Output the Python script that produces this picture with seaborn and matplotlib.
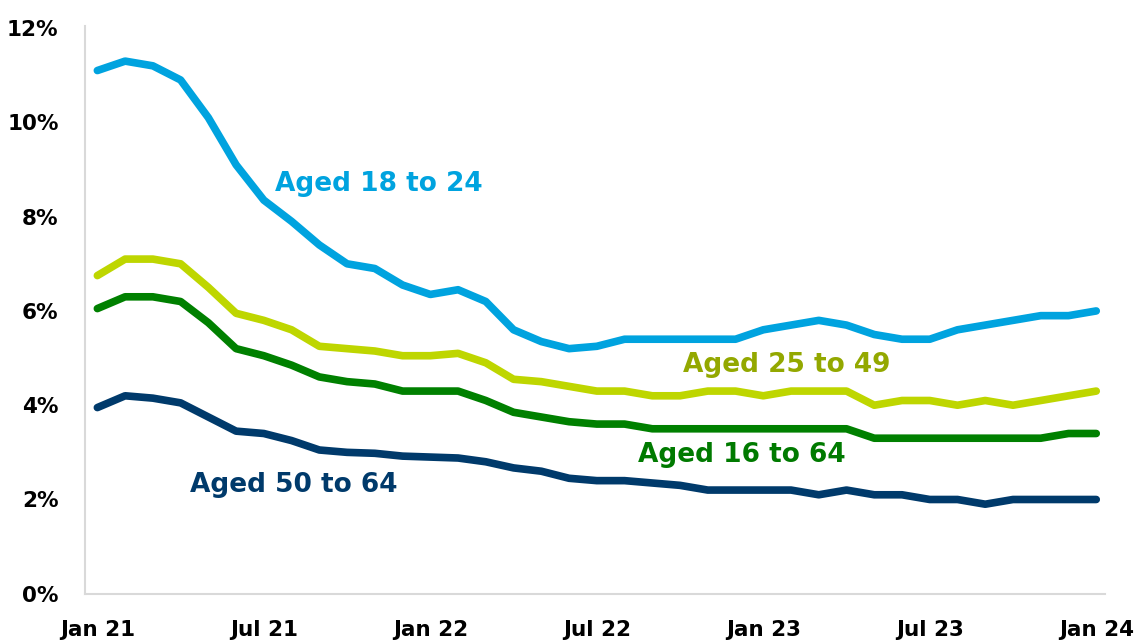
import pandas as pd
import numpy as np
import matplotlib
matplotlib.use("Agg")
import matplotlib.pyplot as plt
import seaborn as sns

# monthly, Jan 21 .. Jan 24
months = pd.date_range("2021-01-01", "2024-01-01", freq="MS")

aged_18_24 = [11.1, 11.3, 11.2, 10.9, 10.1, 9.1, 8.35, 7.9, 7.4, 7.0, 6.9, 6.55,
              6.35, 6.45, 6.2, 5.6, 5.35, 5.2, 5.25, 5.4, 5.4, 5.4, 5.4, 5.4,
              5.6, 5.7, 5.8, 5.7, 5.5, 5.4, 5.4, 5.6, 5.7, 5.8, 5.9, 5.9, 6.0]
aged_25_49 = [6.75, 7.1, 7.1, 7.0, 6.5, 5.95, 5.8, 5.6, 5.25, 5.2, 5.15, 5.05,
              5.05, 5.1, 4.9, 4.55, 4.5, 4.4, 4.3, 4.3, 4.2, 4.2, 4.3, 4.3,
              4.2, 4.3, 4.3, 4.3, 4.0, 4.1, 4.1, 4.0, 4.1, 4.0, 4.1, 4.2, 4.3]
aged_16_64 = [6.05, 6.3, 6.3, 6.2, 5.75, 5.2, 5.05, 4.85, 4.6, 4.5, 4.45, 4.3,
              4.3, 4.3, 4.1, 3.85, 3.75, 3.65, 3.6, 3.6, 3.5, 3.5, 3.5, 3.5,
              3.5, 3.5, 3.5, 3.5, 3.3, 3.3, 3.3, 3.3, 3.3, 3.3, 3.3, 3.4, 3.4]
aged_50_64 = [3.95, 4.2, 4.15, 4.05, 3.75, 3.45, 3.4, 3.25, 3.05, 3.0, 2.98, 2.92,
              2.9, 2.88, 2.8, 2.67, 2.6, 2.45, 2.4, 2.4, 2.35, 2.3, 2.2, 2.2,
              2.2, 2.2, 2.1, 2.2, 2.1, 2.1, 2.0, 2.0, 1.9, 2.0, 2.0, 2.0, 2.0]

series_names = ["Aged 18 to 24", "Aged 25 to 49", "Aged 16 to 64", "Aged 50 to 64"]
line_colors = ["#00A3DF", "#BED600", "#008000", "#003A6B"]
text_colors = ["#00A3DF", "#93A800", "#007A00", "#003A6B"]
tick_pos = [0, 6, 12, 18, 24, 30, 36]
tick_labels = ["Jan 21", "Jul 21", "Jan 22", "Jul 22", "Jan 23", "Jul 23", "Jan 24"]
y_ticks = [0, 2, 4, 6, 8, 10, 12]

df = pd.DataFrame({
    "month": np.arange(len(months)),
    "Aged 18 to 24": aged_18_24,
    "Aged 25 to 49": aged_25_49,
    "Aged 16 to 64": aged_16_64,
    "Aged 50 to 64": aged_50_64,
})
long = df.melt(id_vars="month", var_name="group", value_name="rate")

sns.set_theme(style="white")
plt.rcParams["font.family"] = ["DejaVu Sans"]

fig = plt.figure(figsize=(11.47, 6.44), dpi=100)
ax = fig.add_axes([0.074, 0.078, 0.889, 0.882])

sns.lineplot(data=long, x="month", y="rate", hue="group", hue_order=series_names,
             palette=line_colors, linewidth=5.5, legend=False, ax=ax,
             solid_capstyle="round")

# inline labels instead of a legend
label_spots = [(6.4, 8.7), (21.1, 4.85), (19.5, 2.95), (3.35, 2.3)]
for name, col, (lx, ly) in zip(series_names, text_colors, label_spots):
    ax.text(lx, ly, name, color=col, fontsize=19, fontweight="bold",
            ha="left", va="center")

ax.set_xlim(-0.45, 36.3)
ax.set_ylim(0, 12.05)
ax.set_xticks(tick_pos)
ax.set_xticklabels(tick_labels)
ax.set_yticks(y_ticks)
ax.set_yticklabels([f"{v}%" for v in y_ticks])
ax.set_xlabel("")
ax.set_ylabel("")

for lab in ax.get_xticklabels() + ax.get_yticklabels():
    lab.set_fontweight("bold")
    lab.set_fontsize(15.5)
    lab.set_color("black")
ax.tick_params(axis="x", length=0, pad=19)
ax.tick_params(axis="y", length=0, pad=19)

sns.despine(ax=ax)
for side in ["left", "bottom"]:
    ax.spines[side].set_color("#D9D9D9")
    ax.spines[side].set_linewidth(1.5)

fig.savefig("out.png", dpi=100)
